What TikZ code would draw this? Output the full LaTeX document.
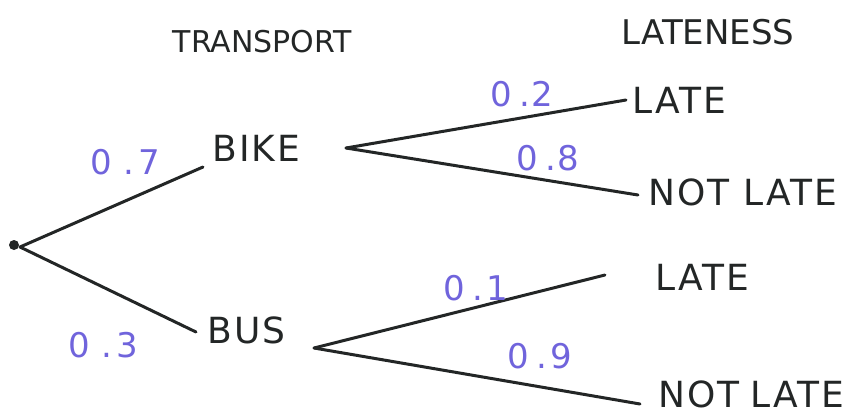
\documentclass[tikz,border=0pt]{standalone}
\usepackage{fontspec}
\setmainfont{DejaVu Sans}
\definecolor{ink}{RGB}{35,38,38}
\definecolor{penblue}{RGB}{112,100,220}
\begin{document}
\begin{tikzpicture}[x=1pt,y=-1pt,
  branch/.style={line width=3pt,line cap=round,ink},
  prob/.style={text=penblue,font=\fontsize{34}{34}\selectfont},
  item/.style={text=ink,inner sep=0pt,font=\fontsize{36}{36}\selectfont\addfontfeature{LetterSpace=6}},
  head/.style={text=ink,font=\fontsize{30}{30}\selectfont}]
\useasboundingbox (0,0) rectangle (868,418);
% headings
\node[head] (h1) at (262,42) {TRANSPORT};
\node[head,font=\fontsize{34}{34}\selectfont] (h2) at (708,32) {LATENESS};
% root
\fill[ink] (14,245) circle (5);
\coordinate (root) at (20,247);
% first level
\node[item,anchor=west] (bike) at (212,148) {BIKE};
\node[item,anchor=west] (bus) at (207,330) {BUS};
\coordinate (bikein) at (203,167);
\coordinate (busin) at (196,332);
\draw[branch] (root) -- (bikein);
\draw[branch] (root) -- (busin);
\node[prob] (p7) at (125,162) {0\hspace{0.35em}.\hspace{0.1em}7};
\node[prob] (p3) at (103,345) {0\hspace{0.35em}.\hspace{0.1em}3};
% bike outcomes
\coordinate (bk) at (346,148);
\node[item,anchor=west] (l1) at (632,100) {LATE};
\node[item,anchor=west] (n1) at (648,192) {NOT LATE};
\draw[branch] (bk) -- ([xshift=-6pt]l1.west);
\draw[branch] (bk) -- ([xshift=-10pt,yshift=-3pt]n1.west);
\node[prob] (p2) at (522,94) {0\hspace{0.2em}.\hspace{0.05em}2};
\node[prob] (p8) at (548,158) {0\hspace{0.2em}.\hspace{0.05em}8};
% bus outcomes
\coordinate (bs) at (314,348);
\node[item,anchor=west] (l2) at (655,277) {LATE};
\node[item,anchor=west] (n2) at (658,394) {NOT\hspace{0.3em}LATE};
\draw[branch] (bs) -- ([xshift=-50pt,yshift=2pt]l2.west);
\draw[branch] (bs) -- ([xshift=-18pt,yshift=-10pt]n2.west);
\node[prob] (p1) at (476,288) {0\hspace{0.2em}.\hspace{0.1em}1};
\node[prob] (p9) at (540,356) {0\hspace{0.2em}.\hspace{0.1em}9};
\end{tikzpicture}
\end{document}
